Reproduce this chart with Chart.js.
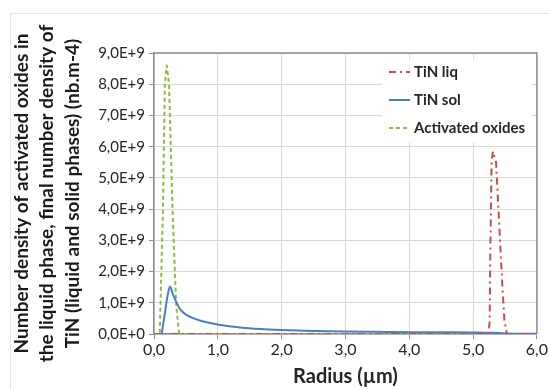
<!DOCTYPE html>
<html>
<head>
<meta charset="utf-8">
<script src="https://cdn.jsdelivr.net/npm/chart.js@4/dist/chart.umd.min.js"></script>
<style>
  html, body { margin: 0; padding: 0; background: #ffffff; }
  #wrap { position: relative; width: 549px; height: 389px; overflow: hidden; }
  #frame { position: absolute; left: 10px; top: 13px; width: 560px; height: 400px; border: 1px solid #e6e6e6; box-sizing: border-box; }
  canvas { position: absolute; left: 0; top: 0; }
</style>
</head>
<body>
<div id="wrap">
  <div id="frame"></div>
  <canvas id="c" width="549" height="389"></canvas>
</div>
<script>
// ---- Data ----
const xTicks = [0, 1, 2, 3, 4, 5, 6];
const yTicks = [0, 1e9, 2e9, 3e9, 4e9, 5e9, 6e9, 7e9, 8e9, 9e9];

const seriesNames = ["TiN liq", "TiN sol", "Activated oxides"];

// TiN liq (red, dash-dot)
const liqRadius = [0, 5.24, 5.26, 5.27, 5.29, 5.31, 5.36, 5.41, 5.46, 5.49, 5.53, 6.0];
const liqDensity = [0, 0, 0.4e9, 2.6e9, 5.5e9, 5.85e9, 5.5e9, 3.5e9, 1.5e9, 0.45e9, 0, 0];

// TiN sol (blue, solid)
const solRadius = [0.12, 0.17, 0.21, 0.25, 0.30, 0.36, 0.41, 0.51, 0.72, 1.04, 1.35, 1.67, 2.0, 2.5, 3.0, 3.5, 4.0, 4.5, 5.0, 5.3, 5.5, 6.0];
const solDensity = [0, 0.66e9, 1.2e9, 1.52e9, 1.25e9, 0.98e9, 0.79e9, 0.61e9, 0.43e9, 0.29e9, 0.21e9, 0.16e9, 0.13e9, 0.10e9, 0.08e9, 0.07e9, 0.06e9, 0.055e9, 0.05e9, 0.04e9, 0.02e9, 0.01e9];

// Activated oxides (green, dashed)
const oxRadius = [0, 0.09, 0.115, 0.14, 0.17, 0.20, 0.236, 0.29, 0.346, 0.39, 0.45, 6.0];
const oxDensity = [0, 0, 2.0e9, 4.0e9, 8.0e9, 8.6e9, 8.0e9, 4.0e9, 1.0e9, 0.05e9, 0, 0];

function pts(xs, ys) { return xs.map((x, i) => ({ x: x, y: ys[i] })); }

const FONT = "Lato, 'Liberation Sans', sans-serif";

const frameBorder = {
  id: 'frameBorder',
  afterDatasetsDraw(chart) {
    const a = chart.chartArea, ctx = chart.ctx;
    ctx.save();
    ctx.strokeStyle = '#8c8c8c';
    ctx.lineWidth = 1.5;
    ctx.beginPath();
    ctx.moveTo(a.left, a.top); ctx.lineTo(a.right, a.top); ctx.lineTo(a.right, a.bottom);
    ctx.stroke();
    ctx.restore();
  }
};

const insideLegend = {
  id: 'insideLegend',
  afterDraw(chart) {
    const ctx = chart.ctx;
    const x0 = 389, x1 = 410, tx = 414;
    const rows = [72, 100, 128];
    ctx.save();
    ctx.fillStyle = '#ffffff';
    ctx.fillRect(382, 60, 150, 82);
    chart.data.datasets.forEach((ds, i) => {
      const y = rows[i];
      ctx.strokeStyle = ds.borderColor;
      ctx.lineWidth = ds.borderWidth;
      ctx.setLineDash(ds.borderDash || []);
      ctx.beginPath(); ctx.moveTo(x0, y); ctx.lineTo(x1, y); ctx.stroke();
      ctx.setLineDash([]);
      ctx.fillStyle = '#262626';
      ctx.font = "bold 15px " + FONT;
      ctx.textBaseline = 'middle';
      ctx.textAlign = 'left';
      ctx.fillText(ds.label, tx, y);
    });
    ctx.restore();
  }
};

new Chart(document.getElementById('c'), {
  type: 'line',
  data: {
    datasets: [
      { label: seriesNames[0], data: pts(liqRadius, liqDensity), borderColor: '#c0504d', borderWidth: 2, borderDash: [7, 4, 2, 4], borderJoinStyle: 'round', pointRadius: 0, tension: 0, fill: false },
      { label: seriesNames[1], data: pts(solRadius, solDensity), borderColor: '#4a7ec6', borderWidth: 2, borderJoinStyle: 'round', pointRadius: 0, cubicInterpolationMode: 'monotone', fill: false },
      { label: seriesNames[2], data: pts(oxRadius, oxDensity), borderColor: '#8fbc3f', borderWidth: 2, borderDash: [4, 3], borderJoinStyle: 'round', pointRadius: 0, tension: 0, fill: false }
    ]
  },
  options: {
    responsive: false,
    animation: false,
    layout: { padding: { left: 0, right: 12, top: 53, bottom: 0 } },
    plugins: { legend: { display: false }, tooltip: { enabled: false } },
    scales: {
      x: {
        type: 'linear', min: 0, max: 6,
        afterBuildTicks: (s) => { s.ticks = xTicks.map(v => ({ value: v })); },
        afterFit: (s) => { s.height = 55; },
        ticks: { color: '#262626', font: { family: FONT, size: 16 }, padding: 1, maxRotation: 0,
          callback: (v) => v.toFixed(1).replace('.', ',') },
        grid: { color: '#d9d9d9', tickColor: '#8c8c8c', tickLength: 5, lineWidth: 1 },
        border: { color: '#8c8c8c', width: 1.5 },
        title: { display: true, text: 'Radius (µm)', color: '#262626', font: { family: FONT, size: 20, weight: 'bold' }, padding: { top: 0, bottom: 0 } }
      },
      y: {
        type: 'linear', min: 0, max: 9e9,
        afterBuildTicks: (s) => { s.ticks = yTicks.map(v => ({ value: v })); },
        afterFit: (s) => { s.width = 154; },
        ticks: { color: '#262626', font: { family: FONT, size: 15 }, padding: 4,
          callback: (v) => (v / 1e9).toFixed(1).replace('.', ',') + (v === 0 ? 'E+0' : 'E+9') },
        grid: { color: '#d9d9d9', tickColor: '#8c8c8c', tickLength: 5, lineWidth: 1 },
        border: { color: '#8c8c8c', width: 1.5 },
        title: { display: true,
          text: ['Number density of activated oxides in', 'the liquid phase, final number density of', 'TiN (liquid and solid phases) (nb.m-4)'],
          color: '#1a1a1a', font: { family: FONT, size: 19, weight: 'bold', lineHeight: '25.5px' }, padding: { top: 9, bottom: 0 } }
      }
    }
  },
  plugins: [frameBorder, insideLegend]
});
</script>
</body>
</html>
